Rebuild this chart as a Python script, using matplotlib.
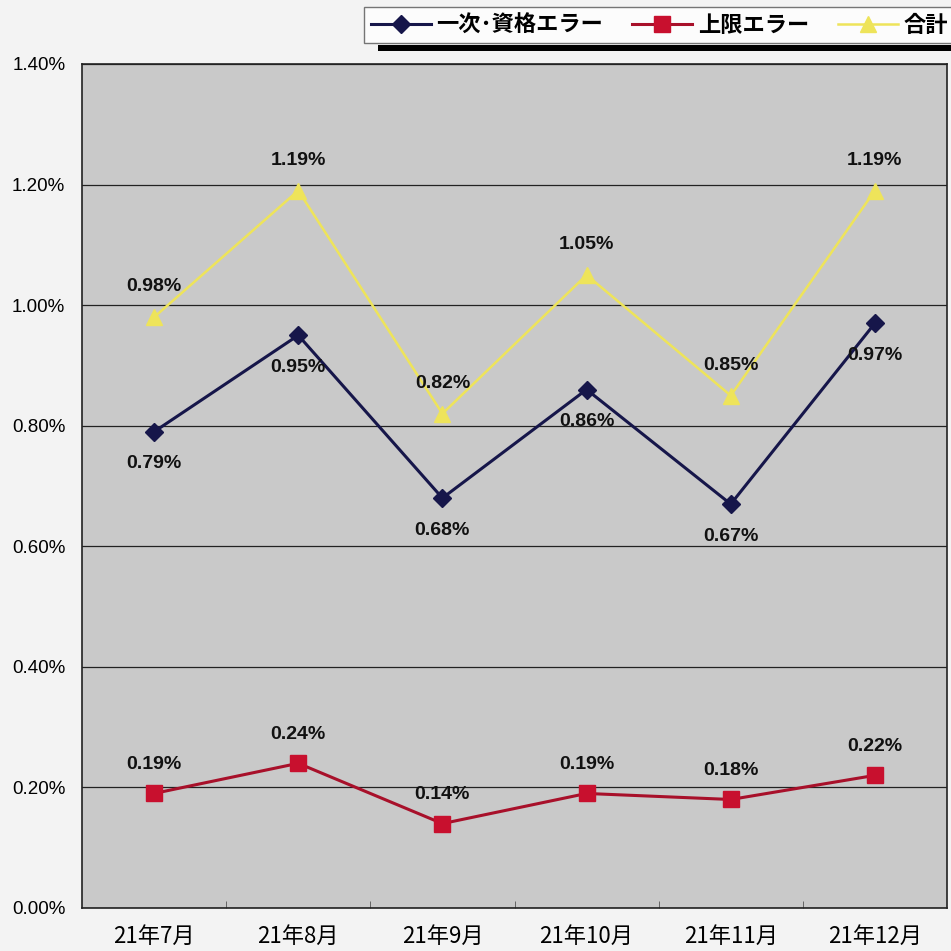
import matplotlib
matplotlib.use("Agg")
import matplotlib.pyplot as plt
from matplotlib.patches import Rectangle

plt.rcParams['font.family'] = ['Liberation Sans', 'Noto Sans CJK JP', 'DejaVu Sans']

months = ["21年7月", "21年8月", "21年9月", "21年10月", "21年11月", "21年12月"]
primary = [0.79, 0.95, 0.68, 0.86, 0.67, 0.97]
upper = [0.19, 0.24, 0.14, 0.19, 0.18, 0.22]
total = [0.98, 1.19, 0.82, 1.05, 0.85, 1.19]
series_names = ["一次･資格エラー", "上限エラー", "合計"]
yticks = [0.0, 0.2, 0.4, 0.6, 0.8, 1.0, 1.2, 1.4]

W = H = 951
fig = plt.figure(figsize=(9.51, 9.51), dpi=100, facecolor="#f3f3f3")
ax = fig.add_axes([82 / W, (W - 908) / H, (947 - 82) / W, (908 - 64) / H])
ax.set_facecolor("#c9c9c9")

x = list(range(len(months)))
navy = "#16164a"
red_line = "#a8102a"
red_mk = "#c8102e"
yellow = "#eee45a"

l1, = ax.plot(x, primary, color=navy, lw=2.2, marker="D", ms=9, mfc=navy, mec=navy, zorder=4)
l2, = ax.plot(x, upper, color=red_line, lw=2.2, marker="s", ms=11, mfc=red_mk, mec=red_mk, zorder=4)
l3, = ax.plot(x, total, color=yellow, lw=1.8, marker="^", ms=11, mfc=yellow, mec=yellow, zorder=3)

ax.set_xlim(-0.5, len(months) - 0.5)
ax.set_ylim(0, 1.4)
ax.set_yticks(yticks)
ax.set_yticklabels([f"{v:.2f}%" for v in yticks], fontsize=13.5)
ax.set_xticks(x)
ax.set_xticklabels(months, fontsize=16, family=['Noto Sans CJK JP', 'DejaVu Sans'])
ax.tick_params(axis="x", length=0, pad=12)
ax.tick_params(axis="y", length=0, pad=12)
ax.set_xticks([i + 0.5 for i in range(len(months) - 1)], minor=True)
ax.tick_params(axis="x", which="minor", length=5, direction="in", color="#555555")
ax.grid(axis="y", color="#222222", lw=0.9)
ax.set_axisbelow(True)
for s in ["top", "bottom", "left", "right"]:
    ax.spines[s].set_color("#222222")
    ax.spines[s].set_linewidth(1.2)

lab_kw = dict(ha="center", va="center", fontsize=14, fontweight="bold", color="#111111", zorder=6)
for i, v in enumerate(primary):
    ax.annotate(f"{v:.2f}%", (i, v), xytext=(0, -23), textcoords="offset points", **lab_kw)
for i, v in enumerate(upper):
    ax.annotate(f"{v:.2f}%", (i, v), xytext=(0, 21), textcoords="offset points", **lab_kw)
for i, v in enumerate(total):
    ax.annotate(f"{v:.2f}%", (i, v), xytext=(0, 22), textcoords="offset points", **lab_kw)

# legend shadow
fig.patches.append(Rectangle((378 / W, (W - 51) / H), (951 - 378) / W, 6 / H,
                             transform=fig.transFigure, facecolor="black", edgecolor="none", zorder=1))
leg = fig.legend([l1, l2, l3], series_names, loc="upper right", bbox_to_anchor=(1.004, 1 - 7 / H),
                 ncol=3, frameon=True, fancybox=False, edgecolor="#555555", facecolor="white",
                 prop={"family": ['Noto Sans CJK JP', 'DejaVu Sans'], "weight": "bold", "size": 16},
                 handlelength=2.7, columnspacing=1.3, handletextpad=0.25, borderpad=0.3,
                 borderaxespad=0)
leg.get_frame().set_linewidth(1.0)
leg.set_zorder(5)

fig.savefig("out.png", dpi=100, facecolor=fig.get_facecolor())
